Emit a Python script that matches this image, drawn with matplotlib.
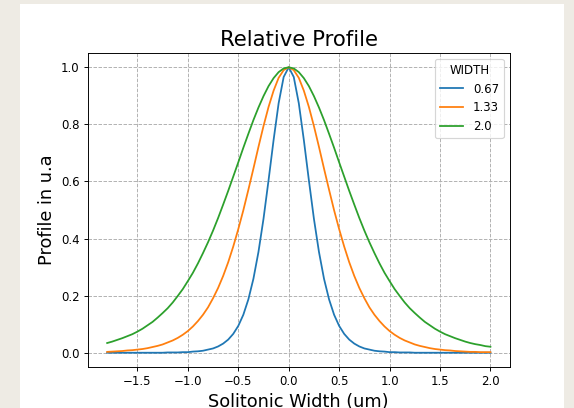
import numpy as np
import matplotlib
matplotlib.use("Agg")
import matplotlib.pyplot as plt
from matplotlib.patches import Rectangle

# Sample positions (um)
x = np.round(np.arange(-1.8, 2.0001, 0.05), 2)

widths = ["0.67", "1.33", "2.0"]

profile_067 = [0.000, 0.000, 0.000, 0.000, 0.000, 0.000, 0.000, 0.000, 0.000, 0.000, 0.000, 0.000,
               0.001, 0.001, 0.001, 0.002, 0.002, 0.004, 0.005, 0.007, 0.011, 0.015, 0.022, 0.032,
               0.046, 0.066, 0.094, 0.133, 0.187, 0.259, 0.353, 0.469, 0.604, 0.745, 0.874, 0.966,
               1.000,
               0.966, 0.874, 0.745, 0.604, 0.469, 0.353, 0.259, 0.187, 0.133, 0.094, 0.066, 0.046,
               0.032, 0.022, 0.015, 0.011, 0.007, 0.005, 0.004, 0.002, 0.002, 0.001, 0.001, 0.001,
               0.000, 0.000, 0.000, 0.000, 0.000, 0.000, 0.000, 0.000, 0.000, 0.000, 0.000, 0.000,
               0.000, 0.000, 0.000, 0.000]

profile_133 = [0.003, 0.004, 0.005, 0.006, 0.008, 0.009, 0.011, 0.013, 0.016, 0.020, 0.024, 0.029,
               0.036, 0.043, 0.052, 0.063, 0.076, 0.092, 0.111, 0.133, 0.159, 0.191, 0.227, 0.269,
               0.317, 0.372, 0.433, 0.499, 0.571, 0.645, 0.721, 0.794, 0.861, 0.918, 0.963, 0.990,
               1.000,
               0.990, 0.963, 0.918, 0.861, 0.794, 0.721, 0.645, 0.571, 0.499, 0.433, 0.372, 0.317,
               0.269, 0.227, 0.191, 0.159, 0.133, 0.111, 0.092, 0.076, 0.063, 0.052, 0.043, 0.036,
               0.029, 0.024, 0.020, 0.016, 0.013, 0.011, 0.009, 0.008, 0.006, 0.005, 0.004, 0.003,
               0.003, 0.002, 0.002, 0.002]

profile_200 = [0.034, 0.039, 0.045, 0.051, 0.058, 0.065, 0.074, 0.084, 0.096, 0.108, 0.123, 0.139,
               0.156, 0.176, 0.199, 0.223, 0.251, 0.280, 0.313, 0.349, 0.387, 0.428, 0.472, 0.519,
               0.567, 0.617, 0.667, 0.718, 0.767, 0.815, 0.859, 0.899, 0.934, 0.962, 0.983, 0.996,
               1.000,
               0.996, 0.983, 0.962, 0.934, 0.899, 0.859, 0.815, 0.767, 0.718, 0.667, 0.617, 0.567,
               0.519, 0.472, 0.428, 0.387, 0.349, 0.313, 0.280, 0.251, 0.223, 0.199, 0.176, 0.156,
               0.139, 0.123, 0.108, 0.096, 0.084, 0.074, 0.065, 0.058, 0.051, 0.045, 0.039, 0.034,
               0.030, 0.027, 0.023, 0.021]

profiles = [profile_067, profile_133, profile_200]

DPI = 85
W, H = 574, 408
fig = plt.figure(figsize=(W / DPI, H / DPI), dpi=DPI, facecolor="#eeebe4")
# white canvas of the embedded figure
fig.patches.append(Rectangle((20 / W, 0), 544 / W, 404 / H, transform=fig.transFigure,
                             facecolor="white", edgecolor="none", zorder=-10))

ax = fig.add_axes([88 / W, 41 / H, 421.6 / W, 314 / H])
for prof, lab in zip(profiles, widths):
    ax.plot(x, prof, label=lab)

ax.grid(True, linestyle="--")
ax.set_title("Relative Profile", fontsize=18)
ax.set_xlabel("Solitonic Width (um)", fontsize=15)
ax.set_ylabel("Profile in u.a", fontsize=15)
ax.legend(title="WIDTH", loc="upper right")

fig.savefig("out.png", dpi=DPI, facecolor=fig.get_facecolor())
